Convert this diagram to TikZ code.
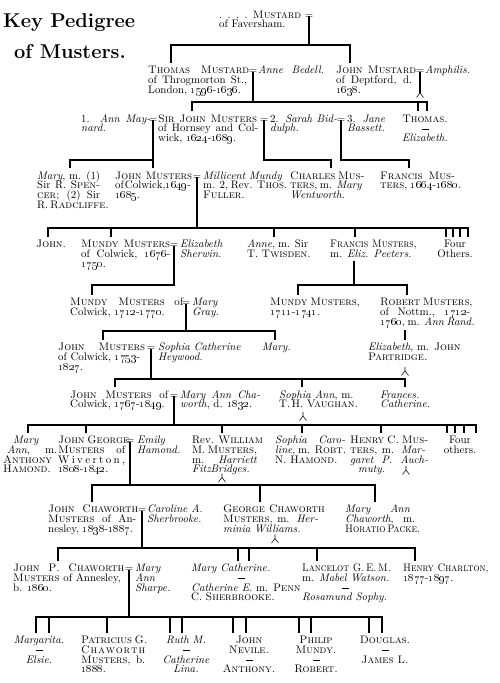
\documentclass[tikz,border=0pt]{standalone}
\usepackage{graphicx}
\newif\ifgoth
\IfFileExists{yfonts.sty}{\IfFileExists{ygoth.tfm}{\IfFileExists{ygoth.pfb}{\gothtrue}{}}{}}{}
\ifgoth\usepackage{yfonts}\newcommand\ttlfont{\gothfamily}\else\newcommand\ttlfont{\bfseries}\fi
\newcommand\tb[1]{\vtop{\baselineskip=9.8pt\lineskip=0pt\lineskiplimit=-\maxdimen\halign{##\hfil\cr#1\crcr}}}
\newcommand\tbc[1]{\vtop{\baselineskip=9.8pt\lineskip=0pt\lineskiplimit=-\maxdimen\halign{\hfil##\hfil\cr#1\crcr}}}
\newcommand\J[2]{\makebox[#1pt][s]{#2}}
\newcommand\os[1]{\oldstylenums{#1}}
\newcommand\dsh{\rule[2.6pt]{7pt}{0.55pt}}
\newcommand\sq[1]{\scalebox{0.9}[1]{#1}}
\begin{document}
\begin{tikzpicture}[x=1pt,y=-1pt,
  every node/.style={font=\fontsize{10.9}{9.8}\selectfont},
  txt/.style={anchor=base west, inner xsep=0pt, inner ysep=3pt},
  ctxt/.style={anchor=base, inner xsep=0pt, inner ysep=3pt},
  eqs/.style={anchor=base, inner sep=0pt},
  ln/.style={line width=1.3pt},
  issuemark/.style={line width=0.55pt}]
\newcommand\issue[1]{\draw[issuemark] (#1) ++(0,-4) -- (#1) -- ++(-3.5,4.5) (#1) -- ++(3.5,4.5);}
\useasboundingbox (0,0) rectangle (500,683);
\fill[white] (0,0) rectangle (500,683);
% ================= NODES =================
% title
\node[anchor=base west, inner sep=0pt] (t1) at (3,27) {\fontsize{20}{20}\selectfont\ttlfont Key Pedigree};
\node[anchor=base, inner sep=0pt] (t2) at (70,58) {\fontsize{20}{20}\selectfont\ttlfont of Musters.};
% row 0
\node[txt] (mF) at (219,18) {\tb{\J{82}{.\ .\ .\ .\ \textsc{Mustard}}\cr of Faversham.}};
\node[eqs] (e0) at (309,18) {=};
% row 1
\node[txt] (thM) at (148,73.5) {\tb{\J{101}{\textsc{Thomas Mustard}}\cr\J{99}{of Throgmorton St.,}\cr London, \os{1596}-\os{1636}.}};
\node[eqs] (e1) at (253,73.5) {=};
\node[txt] (aB) at (258,73.5) {\tb{\J{66}{\emph{Anne Bedell.}}}};
\node[txt] (jM) at (336,73.5) {\tb{\J{80}{\textsc{John Mustard}}\cr\J{76}{of Deptford, d.}\cr\os{1638}.}};
\node[eqs] (e1b) at (420,73.5) {=};
\node[txt] (amp) at (425,73.5) {\tb{\emph{Amphilis.}}};
% row 2
\node[txt] (aM) at (81,122) {\tb{\J{69}{1. \emph{Ann May-}}\cr\emph{nard.}}};
\node[eqs] (e2a) at (153,122) {=};
\node[txt] (sJ) at (158,122) {\tb{\J{99}{\textsc{Sir John Musters}}\cr\J{100}{of Hornsey and Col-}\cr wick, \os{1624}-\os{1689}.}};
\node[eqs] (e2b) at (264,122) {=};
\node[txt] (sB) at (270,122) {\tb{\J{67}{2. \emph{Sarah Bid-}}\cr\emph{dulph.}}};
\node[eqs] (e2c) at (341,122) {=};
\node[txt] (jB) at (347,122) {\tb{\J{38}{3. \emph{Jane}}\cr\emph{Bassett.}}};
\node[ctxt] (thom) at (425,122) {\tbc{\textsc{Thomas.}\cr\dsh\cr\emph{Elizabeth.}}};
% row 3
\node[txt] (mary) at (37,179) {\tb{\J{63}{\emph{Mary}, m. (1)}\cr\J{63}{Sir R. \textsc{Spen-}}\cr\J{63}{\textsc{cer}; (2) Sir}\cr R.\,\textsc{Radcliffe.}}};
\node[txt] (jMu) at (115,179) {\tb{\J{77}{\textsc{John Musters}}\cr\J{77}{of\hspace{1pt}Colwick,\os{1649}-}\cr\os{1685}.}};
\node[eqs] (e3) at (197,179) {=};
\node[txt] (mMu) at (203,179) {\tb{\emph{Millicent Mundy}\cr\J{77}{m. 2, Rev. \textsc{Thos.}}\cr\textsc{Fuller.}}};
\node[txt] (chM) at (290,179) {\tb{\J{68}{\textsc{Charles Mus-}}\cr\J{68}{\textsc{ters}, m. \emph{Mary}}\cr\emph{Wentworth.}}};
\node[txt] (frM) at (380,179) {\tb{\J{75}{\textsc{Francis Mus-}}\cr\textsc{ters}, \os{1664}-\os{1680}.}};
% row 4
\node[txt] (jn) at (36,247.5) {\tb{\textsc{John.}}};
\node[txt] (mM2) at (81,247.5) {\tb{\J{89}{\textsc{Mundy Musters}}\cr\J{89}{of Colwick, \os{1676}-}\cr\os{1750}.}};
\node[eqs] (e4) at (174,247.5) {=};
\node[txt] (eS) at (180,247.5) {\tb{\emph{Elizabeth}\cr\emph{Sherwin.}}};
\node[txt] (anne) at (247,247.5) {\tb{\J{61}{\emph{Anne}, m. Sir}\cr T. \textsc{Twisden.}}};
\node[txt] (fMs) at (330,247.5) {\tb{\sq{\textsc{Francis Musters},}\cr m. \emph{Eliz. Peeters.}}};
\node[ctxt] (four1) at (455,247.5) {\tbc{Four\cr Others.}};
% row 5
\node[txt] (mM3) at (70,305.5) {\tb{\J{113}{\textsc{Mundy Musters} of}\cr Colwick, \os{1712}-\os{1770}.}};
\node[eqs] (e5) at (186,305.5) {=};
\node[txt] (mG) at (192,305.5) {\tb{\emph{Mary}\cr\emph{Gray.}}};
\node[txt] (mM4) at (270,305.5) {\tb{\J{87}{\textsc{Mundy Musters},}\cr\os{1711}-\os{1741}.}};
\node[txt] (rM) at (380,305.5) {\tb{\J{90}{\textsc{Robert Musters},}\cr\J{90}{of Nottm., \os{1712}-}\cr\J{90}{\os{1760}, m. \emph{Ann Rand.}}}};
% row 6
\node[txt] (jM4) at (58,350.5) {\tb{\J{87}{\textsc{John Musters}}\cr of Colwick, \os{1753}-\cr\os{1827}.}};
\node[eqs] (e6) at (151,350.5) {=};
\node[txt] (sCH) at (158,350.5) {\tb{\emph{Sophia Catherine}\cr\emph{Heywood.}}};
\node[txt] (maryB) at (262,350.5) {\tb{\emph{Mary.}}};
\node[txt] (eP) at (368,350.5) {\tb{\emph{Elizabeth}, m. \textsc{John}\cr\textsc{Partridge.}}};
% row 7
\node[txt] (jM5) at (70,398) {\tb{\J{98}{\textsc{John Musters} of}\cr Colwick, \os{1767}-\os{1849}.}};
\node[eqs] (e7) at (174,398) {=};
\node[txt] (mAC) at (180,398) {\tb{\J{80}{\emph{Mary Ann Cha-}}\cr\emph{worth}, d. \os{1832}.}};
\node[txt] (sAV) at (279,398) {\tb{\emph{Sophia Ann}, m.\cr T.\,H. \textsc{Vaughan.}}};
\node[txt] (frC) at (380,398) {\tb{\emph{Frances.}\cr\emph{Catherine.}}};
% row 8
\node[txt] (maH) at (3,443.5) {\tb{\hspace*{10pt}\emph{Mary}\cr\hspace*{4pt}\J{50}{\emph{Ann}, m.}\cr\J{55}{\textsc{Anthony}}\cr\textsc{Hamond.}}};
\node[txt] (jG) at (58,443.5) {\tb{\J{67}{\textsc{John George}}\cr\J{67}{\textsc{Musters} of}\cr\J{67}{W\hfil i\hfil v\hfil e\hfil r\hfil t\hfil o\hfil n\hfil ,}\cr\os{1808}-\os{1842}.}};
\node[eqs] (e8) at (130,443.5) {=};
\node[txt] (eH) at (137,443.5) {\tb{\emph{Emily}\cr\emph{Hamond.}}};
\node[txt] (rW) at (192,443.5) {\tb{\J{65}{Rev. \textsc{William}}\cr\J{65}{M. \textsc{Musters},}\cr\J{65}{m. \emph{Harriett}}\cr\emph{FitzBridges.}}};
\node[txt] (sC) at (275,443.5) {\tb{\J{70}{\emph{Sophia Caro-}}\cr\J{70}{\emph{line}, m. \textsc{Robt.}}\cr N. \textsc{Hamond.}}};
\node[txt] (hC) at (350,443.5) {\tb{\J{75}{\textsc{Henry C. Mus-}}\cr\J{75}{\textsc{ters}, m. \emph{Mar-}}\cr\J{78}{\emph{garet P. Auch-}}\cr\hspace*{8pt}\emph{muty.}}};
\node[ctxt] (four2) at (460,443.5) {\tbc{Four\cr others.}};
% row 9
\node[txt] (jC) at (48,512.5) {\tb{\J{90}{\textsc{John Chaworth}}\cr\J{88}{\textsc{Musters} of An-}\cr nesley, \os{1838}-\os{1887}.}};
\node[eqs] (e9) at (142,512.5) {=};
\node[txt] (cS) at (147,512.5) {\tb{\emph{Caroline A.}\cr\emph{Sherbrooke.}}};
\node[txt] (gC) at (223,512.5) {\tb{\textsc{George Chaworth}\cr\J{95}{\textsc{Musters}, m. \emph{Her-}}\cr\emph{minia Williams.}}};
\node[txt] (maC) at (345,512.5) {\tb{\J{65}{\emph{Mary Ann}}\cr\J{70}{\emph{Chaworth}, m.}\cr\sq{\textsc{Horatio\,Packe.}}}};
% row 10
\node[txt] (jP) at (13,571.5) {\tb{\J{111}{\textsc{John P. Chaworth}}\cr\textsc{Musters} of Annesley,\cr b. \os{1860}.}};
\node[eqs] (e10) at (129,571.5) {=};
\node[txt] (mAS) at (135,571.5) {\tb{\emph{Mary}\cr\emph{Ann}\cr\emph{Sharpe.}}};
\node[txt] (mC) at (191,571.5) {\tb{\emph{Mary Catherine.}\cr\hspace*{47pt}\dsh\cr\emph{Catherine E.} m. \textsc{Penn}\cr C. \textsc{Sherbrooke.}}};
\node[txt] (lG) at (302,571.5) {\tb{\sq{\textsc{Lancelot G.\,E.\,M.}}\cr m. \emph{Mabel Watson.}\cr\hspace*{40pt}\dsh\cr\emph{Rosamund Sophy.}}};
\node[txt] (hCh) at (403,571.5) {\tb{\sq{\textsc{Henry Charlton},}\cr\os{1877}-\os{1897}.}};
% row 11
\node[ctxt] (mar) at (39,643.5) {\tbc{\emph{Margarita.}\cr\dsh\cr\emph{Elsie.}}};
\node[txt] (pat) at (81,643.5) {\tb{\J{65}{\textsc{Patricius G.}}\cr\J{64}{\textsc{C\hfil h\hfil a\hfil w\hfil o\hfil r\hfil t\hfil h}}\cr\J{64}{\textsc{Musters}, b.}\cr\os{1888}.}};
\node[ctxt] (ruth) at (186,643.5) {\tbc{\emph{Ruth M.}\cr\dsh\cr\emph{Catherine}\cr\emph{Lina.}}};
\node[ctxt] (jNv) at (249,643.5) {\tbc{\textsc{John}\cr\textsc{Nevile.}\cr\dsh\cr\textsc{Anthony.}}};
\node[ctxt] (phil) at (316,643.5) {\tbc{\textsc{Philip}\cr\textsc{Mundy.}\cr\dsh\cr\textsc{Robert.}}};
\node[ctxt] (dou) at (385,643.5) {\tbc{\textsc{Douglas.}\cr\dsh\cr\textsc{James L.}}};
% ================= CONNECTORS =================
\coordinate (b1l) at (171,45); \coordinate (b1r) at (350,45);
\draw[ln] ([yshift=1.6pt]e0.base) -- (e0 |- b1l);
\draw[ln] (b1l |- thM.north) -- (b1l) -- (b1r) -- (b1r |- jM.north);
\coordinate (b2l) at (192,102); \coordinate (b2r) at (427,102); \coordinate (b2m) at (418,102);
\coordinate (i1) at (420,93);
\draw[ln] ([yshift=1.6pt]e1.base) -- (e1 |- b2l);
\draw[ln] ([yshift=1.6pt]e1b.base) -- (i1);
\issue{i1}
\draw[ln] (b2l |- sJ.north) -- (b2l) -- (b2r) -- (b2r |- thom.north);
\draw[ln] (b2m) -- (b2m |- thom.north);
\coordinate (b3a) at (70,160); \coordinate (b3c) at (331,160); \coordinate (b3d) at (409,160);
\draw[ln] ([yshift=1.6pt]e2a.base) -- (e2a |- jMu.north);
\draw[ln] (b3a |- mary.north) -- (b3a) -- (e2a |- b3a);
\draw[ln] ([yshift=1.6pt]e2b.base) |- (b3c) -- (b3c |- chM.north);
\draw[ln] ([yshift=1.6pt]e2c.base) |- (b3d) -- (b3d |- frM.north);
\coordinate (b4l) at (48,228); \coordinate (b4r) at (468,228);
\coordinate (d4a) at (111,228); \coordinate (d4b) at (274,228); \coordinate (d4c) at (355,228);
\draw[ln] ([yshift=1.6pt]e3.base) -- (e3 |- b4l);
\draw[ln] (b4l |- jn.north) -- (b4l) -- (b4r) -- (b4r |- four1.north);
\draw[ln] (d4a) -- (d4a |- mM2.north);
\draw[ln] (d4b) -- (d4b |- anne.north);
\draw[ln] (d4c) -- (d4c |- fMs.north);
\foreach \x in {446,453,460} \draw[ln] (\x,228) -- (\x,0 |- four1.north);
\coordinate (b5l) at (92,285); \coordinate (b5c) at (298,285); \coordinate (b5d) at (407,285); \coordinate (b5m) at (354,285);
\draw[ln] ([yshift=1.6pt]e4.base) |- (b5l) -- (b5l |- mM3.north);
\draw[ln] (b5m |- fMs.south) -- (b5m);
\draw[ln] (b5c |- mM4.north) -- (b5c) -- (b5d) -- (b5d |- rM.north);
\coordinate (b6l) at (103,331); \coordinate (b6r) at (275,331); \coordinate (rv) at (405,331);
\draw[ln] ([yshift=1.6pt]e5.base) -- (e5 |- b6l);
\draw[ln] (b6l |- jM4.north) -- (b6l) -- (b6r) -- (b6r |- maryB.north);
\draw[ln] (rv |- rM.south) -- (rv |- eP.north);
\coordinate (i2) at (405,371); \issue{i2}
\coordinate (b7l) at (115,379); \coordinate (b7r) at (405,379); \coordinate (d7a) at (302,379);
\draw[ln] ([yshift=1.6pt]e6.base) -- (e6 |- b7l);
\draw[ln] (b7l |- jM5.north) -- (b7l) -- (b7r) -- (b7r |- frC.north);
\draw[ln] (d7a) -- (d7a |- sAV.north);
\coordinate (i3) at (303,416); \issue{i3}
\coordinate (b8l) at (28,425); \coordinate (b8r) at (476,425);
\coordinate (d8a) at (86,425); \coordinate (d8b) at (222,425); \coordinate (d8c) at (302,425); \coordinate (d8d) at (381,425);
\draw[ln] ([yshift=1.6pt]e7.base) -- (e7 |- b8l);
\draw[ln] (b8l |- maH.north) -- (b8l) -- (b8r) -- (b8r |- four2.north);
\draw[ln] (d8a) -- (d8a |- jG.north);
\draw[ln] (d8b) -- (d8b |- rW.north);
\draw[ln] (d8c) -- (d8c |- sC.north);
\draw[ln] (d8d) -- (d8d |- hC.north);
\foreach \x in {447,455,464} \draw[ln] (\x,425) -- (\x,0 |- four2.north);
\coordinate (i4) at (222,477.5); \issue{i4}
\coordinate (i5) at (406,470); \issue{i5}
\coordinate (b9l) at (92,485); \coordinate (b9r) at (375,485); \coordinate (d9a) at (260,485);
\draw[ln] ([yshift=1.6pt]e8.base) -- (e8 |- b9l);
\draw[ln] (b9l |- jC.north) -- (b9l) -- (b9r) -- (b9r |- maC.north);
\draw[ln] (d9a) -- (d9a |- gC.north);
\coordinate (i6) at (275,538.5); \issue{i6}
\coordinate (b10l) at (58,548); \coordinate (b10r) at (415,548);
\coordinate (d10a) at (238,548); \coordinate (d10b) at (249,548); \coordinate (d10c) at (317,548);
\draw[ln] ([yshift=1.6pt]e9.base) -- (e9 |- b10l);
\draw[ln] (b10l |- jP.north) -- (b10l) -- (b10r) -- (b10r |- hCh.north);
\draw[ln] (d10a) -- (d10a |- mC.north);
\draw[ln] (d10b) -- (d10b |- mC.north);
\draw[ln] (d10c) -- (d10c |- lG.north);
\coordinate (b11l) at (36,617); \coordinate (b11r) at (382,617);
\draw[ln] ([yshift=1.6pt]e10.base) -- (e10 |- b11l);
\draw[ln] (b11l |- mar.north) -- (b11l) -- (b11r) -- (b11r |- dou.north);
\draw[ln] (49,617) -- (49,0 |- mar.north);
\draw[ln] (107,617) -- (107,0 |- pat.north);
\foreach \x in {170,182} \draw[ln] (\x,617) -- (\x,0 |- ruth.north);
\foreach \x in {233,246} \draw[ln] (\x,617) -- (\x,0 |- jNv.north);
\foreach \x in {299,311} \draw[ln] (\x,617) -- (\x,0 |- phil.north);
\draw[ln] (369,617) -- (369,0 |- dou.north);
\end{tikzpicture}
\end{document}
